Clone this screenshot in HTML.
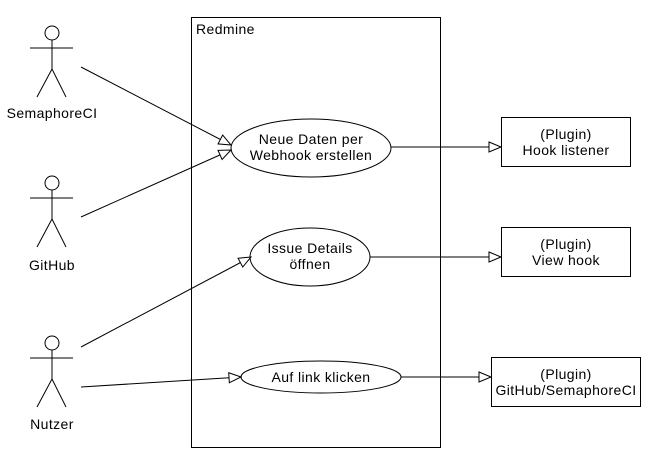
<!DOCTYPE html>
<html><head><meta charset="utf-8"><style>
html,body{margin:0;padding:0;background:#fff}
svg{display:block}
text{font-family:"Liberation Sans",sans-serif;font-size:14px;letter-spacing:0.4px;fill:#000}
</style></head><body>
<svg width="660" height="458" viewBox="0 0 660 458" xmlns="http://www.w3.org/2000/svg">
<defs>
<marker id="a" markerWidth="14" markerHeight="12" refX="13" refY="6" orient="auto" markerUnits="userSpaceOnUse">
<path d="M1,1 L13,6 L1,11 Z" fill="#fff" stroke="#000" stroke-width="1"/>
</marker>
</defs>
<g fill="none" stroke="#000" stroke-width="1">
<rect x="191.5" y="17.5" width="249" height="430"/>
<ellipse cx="311" cy="148" rx="80" ry="29" fill="#fff"/>
<ellipse cx="310" cy="257" rx="60" ry="29" fill="#fff"/>
<ellipse cx="321" cy="377" rx="80" ry="16" fill="#fff"/>
<rect x="501.5" y="117.5" width="129" height="49"/>
<rect x="501.5" y="227.5" width="129" height="49"/>
<rect x="491.5" y="357.5" width="149" height="49"/>
<g>
<circle cx="52" cy="33" r="7"/><line x1="30" y1="48" x2="73" y2="48"/><line x1="52" y1="40" x2="52" y2="69"/><line x1="52" y1="69" x2="37" y2="97"/><line x1="52" y1="69" x2="66" y2="97"/>
</g>
<g transform="translate(0,150)">
<circle cx="52" cy="33" r="7"/><line x1="30" y1="48" x2="73" y2="48"/><line x1="52" y1="40" x2="52" y2="69"/><line x1="52" y1="69" x2="37" y2="97"/><line x1="52" y1="69" x2="66" y2="97"/>
</g>
<g transform="translate(0,310)">
<circle cx="52" cy="33" r="7"/><line x1="30" y1="48" x2="73" y2="48"/><line x1="52" y1="40" x2="52" y2="69"/><line x1="52" y1="69" x2="37" y2="97"/><line x1="52" y1="69" x2="66" y2="97"/>
</g>
<line x1="81" y1="67" x2="231" y2="145" marker-end="url(#a)"/>
<line x1="81" y1="217" x2="231" y2="150" marker-end="url(#a)"/>
<line x1="81" y1="347" x2="251" y2="257" marker-end="url(#a)"/>
<line x1="81" y1="387" x2="241" y2="377" marker-end="url(#a)"/>
<line x1="391" y1="147" x2="501" y2="147" marker-end="url(#a)"/>
<line x1="370" y1="257" x2="501" y2="257" marker-end="url(#a)"/>
<line x1="401" y1="377" x2="491" y2="377" marker-end="url(#a)"/>
</g>
<text x="196" y="34">Redmine</text>
<text x="52" y="118" text-anchor="middle">SemaphoreCI</text>
<text x="52" y="270" text-anchor="middle">GitHub</text>
<text x="52" y="429" text-anchor="middle">Nutzer</text>
<text x="311" y="144" text-anchor="middle">Neue Daten per</text>
<text x="311" y="160" text-anchor="middle">Webhook erstellen</text>
<text x="310" y="253" text-anchor="middle">Issue Details</text>
<text x="310" y="269" text-anchor="middle">öffnen</text>
<text x="321" y="382" text-anchor="middle">Auf link klicken</text>
<text x="566" y="139" text-anchor="middle">(Plugin)</text>
<text x="566" y="155" text-anchor="middle">Hook listener</text>
<text x="566" y="249" text-anchor="middle">(Plugin)</text>
<text x="566" y="265" text-anchor="middle">View hook</text>
<text x="566" y="379" text-anchor="middle">(Plugin)</text>
<text x="566" y="395" text-anchor="middle">GitHub/SemaphoreCI</text>
</svg>
</body></html>
